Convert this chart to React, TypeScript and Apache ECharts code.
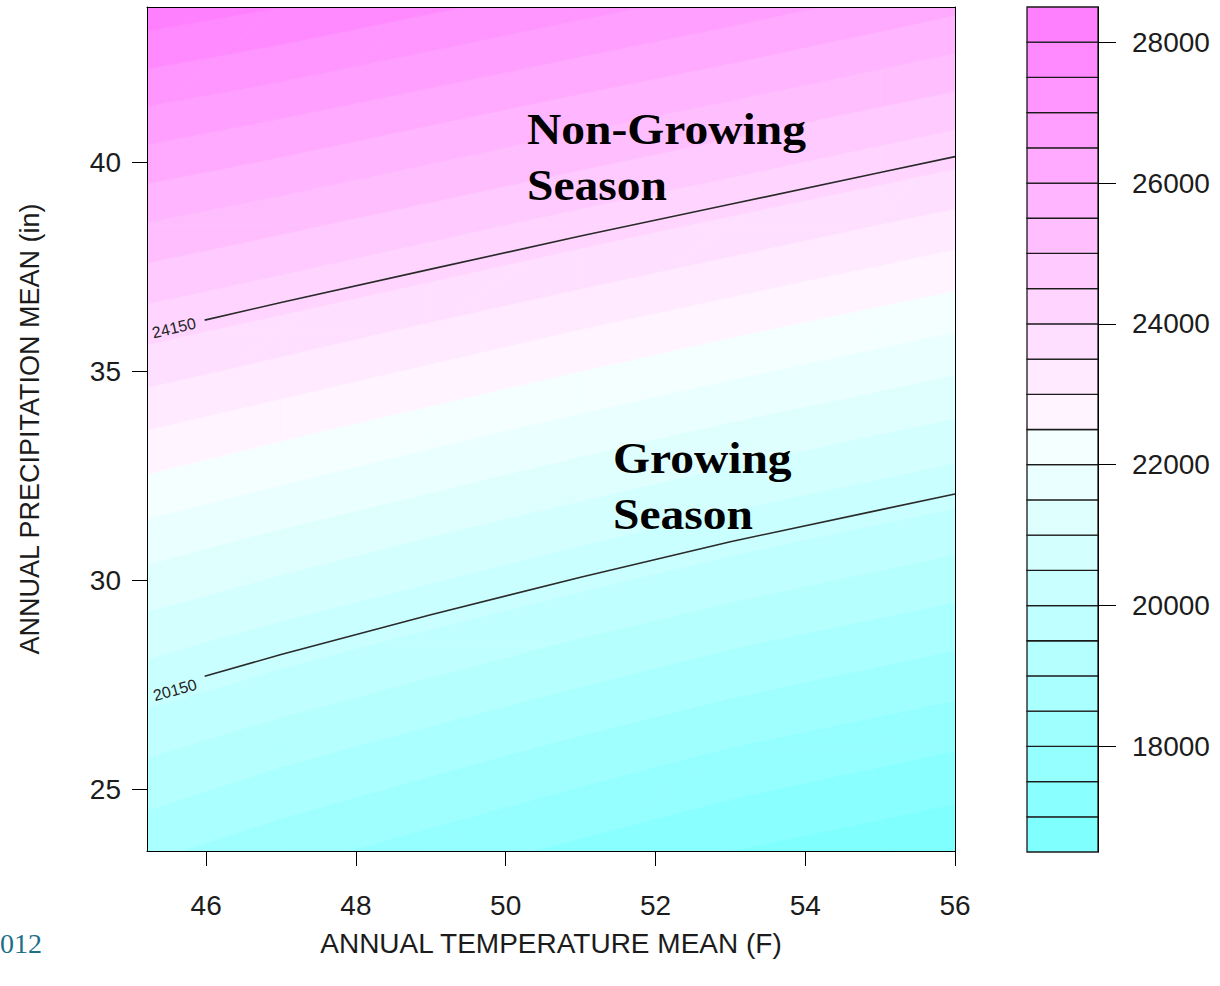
import React, { useEffect, useRef } from "react";
import * as echarts from "echarts";

// ---- data ----
const X_NODES = [45.2, 47, 49, 51, 53, 55, 56];
const Y_NODES = [23.5, 26, 28.5, 31, 33.5, 36, 38.5, 41, 43.75];
// rows follow Y_NODES (bottom to top), columns follow X_NODES
const Z_ROWS = [
  [18601, 18173, 17763, 17365, 16989, 16693, 16547],
  [19606, 19191, 18780, 18379, 17999, 17686, 17531],
  [20666, 20264, 19853, 19449, 19065, 18735, 18572],
  [21783, 21394, 20982, 20576, 20187, 19840, 19668],
  [22956, 22581, 22168, 21758, 21365, 21001, 20821],
  [24185, 23823, 23409, 22997, 22600, 22219, 22030],
  [25471, 25122, 24708, 24293, 23891, 23492, 23295],
  [26813, 26477, 26062, 25644, 25238, 24822, 24617],
  [28350, 28028, 27612, 27192, 26781, 26347, 26132],
];
const LEVELS = [
  16500, 17000, 17500, 18000, 18500, 19000, 19500, 20000, 20500, 21000, 21500, 22000, 22500,
  23000, 23500, 24000, 24500, 25000, 25500, 26000, 26500, 27000, 27500, 28000, 28500,
];
const X_TICKS = [46, 48, 50, 52, 54, 56];
const Y_TICKS = [25, 30, 35, 40];
const KEY_TICKS = [18000, 20000, 22000, 24000, 26000, 28000];
const CONTOUR_24150 = [
  [45.98, 36.22], [47, 36.64], [49, 37.44], [51, 38.23], [53, 38.99], [55, 39.75], [56, 40.13],
];
const CONTOUR_20150 = [
  [45.98, 27.7], [47, 28.22], [49, 29.17], [51, 30.07], [53, 30.92], [55, 31.68], [56, 32.06],
];

// R cm.colors palette
function cmColors(n: number): string[] {
  const even = n % 2 === 0;
  const k = Math.floor(n / 2);
  const l1 = k + 1 - (even ? 1 : 0);
  const l2 = n - k + (even ? 1 : 0);
  const out: string[] = [];
  const toHex = (v: number) => {
    const s = Math.round(v * 255).toString(16);
    return s.length < 2 ? "0" + s : s;
  };
  const endS = even ? 0.5 / k : 0;
  for (let i = 0; i < l1; i++) {
    const s = l1 === 1 ? 0.5 : 0.5 + ((endS - 0.5) * i) / (l1 - 1);
    out.push("#" + toHex(1 - s) + "ffff");
  }
  for (let i = 1; i < l2; i++) {
    const s = (0.5 * i) / (l2 - 1);
    out.push("#ff" + toHex(1 - s) + "ff");
  }
  return out;
}
const COLORS = cmColors(LEVELS.length - 1);

type P = [number, number, number];
function buildTriangles(): P[][] {
  const tris: P[][] = [];
  for (let j = 0; j < Y_NODES.length - 1; j++) {
    for (let i = 0; i < X_NODES.length - 1; i++) {
      const a: P = [X_NODES[i], Y_NODES[j], Z_ROWS[j][i]];
      const b: P = [X_NODES[i + 1], Y_NODES[j], Z_ROWS[j][i + 1]];
      const c: P = [X_NODES[i + 1], Y_NODES[j + 1], Z_ROWS[j + 1][i + 1]];
      const d: P = [X_NODES[i], Y_NODES[j + 1], Z_ROWS[j + 1][i]];
      tris.push([a, b, c]);
      tris.push([a, c, d]);
    }
  }
  return tris;
}
const TRIS = buildTriangles();

function clip(poly: P[], lv: number, keepAbove: boolean): P[] {
  const out: P[] = [];
  const n = poly.length;
  for (let k = 0; k < n; k++) {
    const a = poly[k];
    const b = poly[(k + 1) % n];
    const ain = keepAbove ? a[2] >= lv : a[2] <= lv;
    const bin = keepAbove ? b[2] >= lv : b[2] <= lv;
    if (ain) out.push(a);
    if (ain !== bin) {
      const t = (lv - a[2]) / (b[2] - a[2]);
      out.push([a[0] + t * (b[0] - a[0]), a[1] + t * (b[1] - a[1]), lv]);
    }
  }
  return out;
}

const TEXT = "#1c1c1c";
const SANS = "Liberation Sans, Arial, sans-serif";
const SERIF = "Liberation Serif, Times New Roman, serif";

export default function App() {
  const ref = useRef<HTMLDivElement>(null);
  useEffect(() => {
    if (!ref.current) return;
    const chart = echarts.init(ref.current, undefined, { renderer: "svg" });

    const triData = TRIS.map((t, i) => [
      (t[0][0] + t[1][0] + t[2][0]) / 3,
      (t[0][1] + t[1][1] + t[2][1]) / 3,
      i,
    ]);
    const keyData = COLORS.map((c, i) => [0.5, (LEVELS[i] + LEVELS[i + 1]) / 2, i]);

    const annot = (text: string, x: number, y: number) => ({
      type: "text",
      x,
      y,
      scaleX: 1.08,
      z: 20,
      style: {
        text,
        fontSize: 44,
        fontWeight: "bold",
        fontFamily: SERIF,
        fill: "#000",
        align: "left",
        verticalAlign: "middle",
      },
    });

    const option: any = {
      animation: false,
      backgroundColor: "#ffffff",
      grid: [
        { left: 147, top: 7, width: 808, height: 844 },
        { left: 1027, top: 7, width: 71, height: 845 },
      ],
      xAxis: [
        {
          gridIndex: 0,
          type: "value",
          min: 45.21,
          max: 56,
          position: "bottom",
          z: 10,
          axisLine: { show: true, onZero: false, lineStyle: { color: "#000", width: 1 } },
          axisTick: { show: true, length: 15, customValues: X_TICKS, lineStyle: { color: "#000" } },
          axisLabel: { customValues: X_TICKS, fontSize: 28, margin: 40, color: TEXT, fontFamily: SANS },
          splitLine: { show: false },
          name: "ANNUAL TEMPERATURE MEAN (F)",
          nameLocation: "middle",
          nameGap: 78,
          nameTextStyle: { fontSize: 28, color: TEXT, fontFamily: SANS },
        },
        {
          gridIndex: 0,
          type: "value",
          min: 45.21,
          max: 56,
          position: "top",
          z: 10,
          axisLine: { show: true, onZero: false, lineStyle: { color: "#000", width: 1 } },
          axisTick: { show: false },
          axisLabel: { show: false },
          splitLine: { show: false },
        },
        {
          gridIndex: 1,
          type: "value",
          min: 0,
          max: 1,
          show: false,
        },
      ],
      yAxis: [
        {
          gridIndex: 0,
          type: "value",
          min: 23.52,
          max: 43.71,
          position: "left",
          z: 10,
          axisLine: { show: true, onZero: false, lineStyle: { color: "#000", width: 1 } },
          axisTick: { show: true, length: 15, customValues: Y_TICKS, lineStyle: { color: "#000" } },
          axisLabel: { customValues: Y_TICKS, fontSize: 28, margin: 26, color: TEXT, fontFamily: SANS },
          splitLine: { show: false },
          name: "ANNUAL PRECIPITATION MEAN (in)",
          nameLocation: "middle",
          nameGap: 104,
          nameRotate: 90,
          nameTextStyle: { fontSize: 27, color: TEXT, fontFamily: SANS },
        },
        {
          gridIndex: 0,
          type: "value",
          min: 23.52,
          max: 43.71,
          position: "right",
          z: 10,
          axisLine: { show: true, onZero: false, lineStyle: { color: "#000", width: 1 } },
          axisTick: { show: false },
          axisLabel: { show: false },
          splitLine: { show: false },
        },
        {
          gridIndex: 1,
          type: "value",
          min: LEVELS[0],
          max: LEVELS[LEVELS.length - 1],
          position: "right",
          z: 10,
          axisLine: { show: true, onZero: false, lineStyle: { color: "#000", width: 1 } },
          axisTick: { show: true, length: 18, customValues: KEY_TICKS, lineStyle: { color: "#000" } },
          axisLabel: {
            customValues: KEY_TICKS,
            fontSize: 28,
            margin: 34,
            color: TEXT,
            fontFamily: SANS,
            formatter: (v: number) => String(v),
          },
          splitLine: { show: false },
        },
      ],
      series: [
        {
          type: "custom",
          xAxisIndex: 0,
          yAxisIndex: 0,
          clip: true,
          encode: { x: 0, y: 1 },
          data: triData,
          silent: true,
          renderItem: (params: any, api: any) => {
            const tri = TRIS[params.dataIndex];
            const children: any[] = [];
            for (let b = 0; b < COLORS.length; b++) {
              let poly = clip(tri, LEVELS[b], true);
              if (poly.length < 3) continue;
              poly = clip(poly, LEVELS[b + 1], false);
              if (poly.length < 3) continue;
              children.push({
                type: "polygon",
                shape: { points: poly.map((p) => api.coord([p[0], p[1]])) },
                style: { fill: COLORS[b], stroke: COLORS[b], lineWidth: 0.8 },
              });
            }
            return { type: "group", children };
          },
        },
        {
          type: "line",
          xAxisIndex: 0,
          yAxisIndex: 0,
          data: CONTOUR_24150,
          showSymbol: false,
          silent: true,
          z: 5,
          lineStyle: { color: "#2a2a2a", width: 1.6 },
        },
        {
          type: "line",
          xAxisIndex: 0,
          yAxisIndex: 0,
          data: CONTOUR_20150,
          showSymbol: false,
          silent: true,
          z: 5,
          lineStyle: { color: "#2a2a2a", width: 1.6 },
        },
        {
          type: "custom",
          xAxisIndex: 2,
          yAxisIndex: 2,
          encode: { x: 0, y: 1 },
          data: keyData,
          silent: true,
          renderItem: (params: any, api: any) => {
            const i = params.dataIndex;
            const p1 = api.coord([0, LEVELS[i + 1]]);
            const p2 = api.coord([1, LEVELS[i]]);
            return {
              type: "rect",
              shape: { x: p1[0], y: p1[1], width: p2[0] - p1[0], height: p2[1] - p1[1] },
              style: { fill: COLORS[i], stroke: "#1a1a1a", lineWidth: 1.3 },
            };
          },
        },
      ],
      graphic: [
        {
          type: "text",
          x: 174,
          y: 328,
          rotation: 0.23,
          z: 20,
          style: { text: "24150", fontSize: 16, fontFamily: SANS, fill: "#222", align: "center", verticalAlign: "middle" },
        },
        {
          type: "text",
          x: 175,
          y: 690,
          rotation: 0.27,
          z: 20,
          style: { text: "20150", fontSize: 16, fontFamily: SANS, fill: "#222", align: "center", verticalAlign: "middle" },
        },
        annot("Non-Growing", 527, 129),
        annot("Season", 527, 185),
        annot("Growing", 613, 458),
        annot("Season", 613, 514),
        {
          type: "text",
          x: 0,
          y: 943,
          z: 20,
          style: { text: "012", fontSize: 28, fontFamily: SERIF, fill: "#1f6f8b", align: "left", verticalAlign: "middle" },
        },
      ],
    };
    chart.setOption(option);
    return () => chart.dispose();
  }, []);
  return (
    <div
      ref={ref}
      style={{ position: "fixed", left: 0, top: 0, width: 1220, height: 986, background: "#fff" }}
    />
  );
}
